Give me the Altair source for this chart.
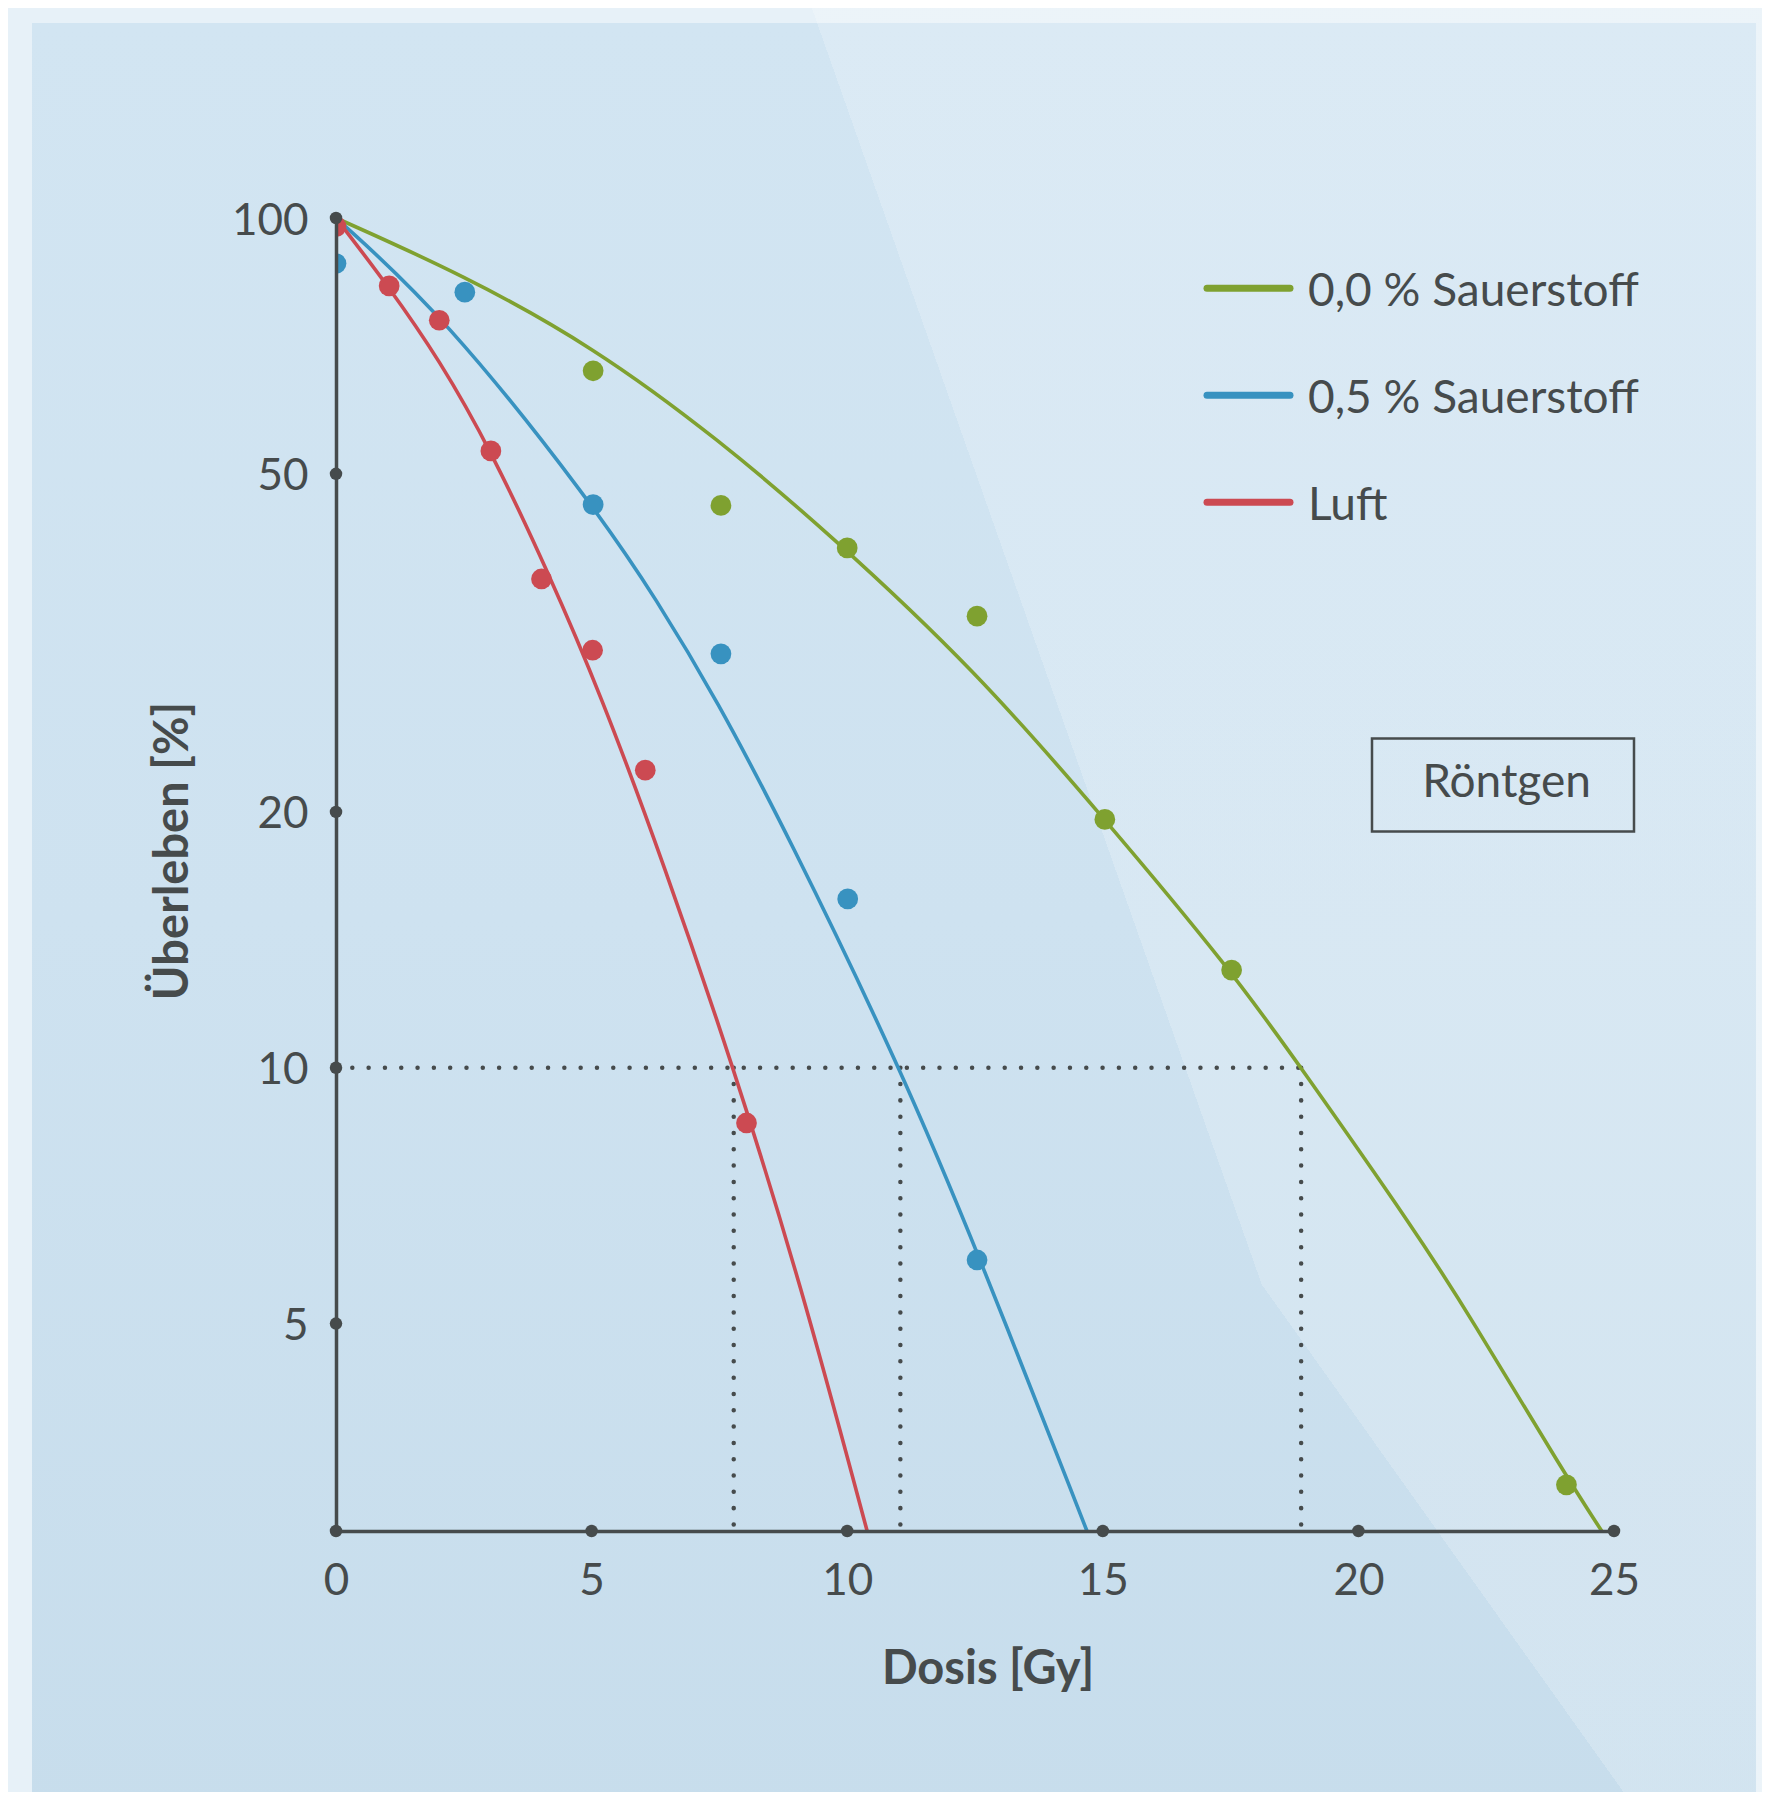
import altair as alt
import pandas as pd

# ---------------- data ----------------
series_names = ["0,0 % Sauerstoff", "0,5 % Sauerstoff", "Luft"]
series_colors = ["#7fa130", "#3892c0", "#cc4a52"]

# measured survival points (dose in Gy, survival in %)
green_pts_dose = [5.03, 7.53, 10.0, 12.54, 15.04, 17.52, 24.07]
green_pts_surv = [66.1, 45.9, 40.9, 34.0, 19.6, 13.03, 3.23]
blue_pts_dose = [0.0, 2.52, 5.03, 7.53, 10.01, 12.54]
blue_pts_surv = [88.4, 81.8, 46.0, 30.7, 15.8, 5.94]
red_pts_dose = [0.0, 1.04, 2.02, 3.03, 4.02, 5.02, 6.05, 8.03]
red_pts_surv = [97.7, 83.2, 75.8, 53.2, 37.6, 31.0, 22.4, 8.61]

# fitted curves
green_curve_dose = [0, 2.49, 5.03, 7.5, 9.67, 12.5, 15.03, 17.52, 18.88, 21.15, 22.14, 24.07, 24.76]
green_curve_surv = [100, 85.7, 70.6, 54.8, 42.4, 29.4, 19.65, 13.0, 10, 6.38, 5.15, 3.30, 2.85]
blue_curve_dose = [0, 2.10, 5.03, 6.28, 7.45, 8.82, 11.04, 12.54, 14.69]
blue_curve_surv = [100, 76.9, 46.0, 35.5, 27.1, 18.9, 10, 6.1, 2.85]
red_curve_dose = [0, 1.02, 2.03, 3.03, 4.15, 5.17, 6.41, 7.78, 9.08, 10.39]
red_curve_surv = [100, 83.2, 68.0, 53.3, 38.3, 27.6, 17.4, 10, 5.6, 2.85]

# 10 % survival reference
ref_level = 10
ref_doses = [7.78, 11.04, 18.88]

# axes
x_ticks = [0, 5, 10, 15, 20, 25]
y_ticks = [5, 10, 20, 50, 100]
x_min, x_max = 0, 25
y_min, y_max = 2.85, 100

x_title = "Dosis [Gy]"
y_title = "Überleben [%]"
box_label = "Röntgen"

# ---------------- tables ----------------
curves = pd.concat([
    pd.DataFrame({"dose": d, "surv": s, "series": n})
    for d, s, n in [(green_curve_dose, green_curve_surv, series_names[0]),
                    (blue_curve_dose, blue_curve_surv, series_names[1]),
                    (red_curve_dose, red_curve_surv, series_names[2])]
])
points = pd.concat([
    pd.DataFrame({"dose": d, "surv": s, "series": n})
    for d, s, n in [(green_pts_dose, green_pts_surv, series_names[0]),
                    (blue_pts_dose, blue_pts_surv, series_names[1]),
                    (red_pts_dose, red_pts_surv, series_names[2])]
])
vlines = pd.DataFrame({"dose": ref_doses, "surv": [ref_level] * len(ref_doses),
                       "surv2": [y_min] * len(ref_doses)})
hline = pd.DataFrame({"dose": [x_min], "dose2": [max(ref_doses)], "surv": [ref_level]})
xtick_df = pd.DataFrame({"dose": x_ticks, "surv": [y_min] * len(x_ticks)})
ytick_df = pd.DataFrame({"dose": [x_min] * len(y_ticks), "surv": y_ticks})
ticks_df = pd.concat([xtick_df, ytick_df])

# ---------------- styling ----------------
FONT = "Lato"
INK = "#464b4c"
W, H = 1278, 1313

color_scale = alt.Scale(domain=series_names, range=series_colors)
xs = alt.Scale(domain=[x_min, x_max], nice=False, zero=False)
ys = alt.Scale(type="log", domain=[y_min, y_max], nice=False)

x_axis = alt.Axis(values=x_ticks, title=None, grid=False, ticks=False, tickSize=0,
                  labelFont=FONT, labelFontSize=44, labelColor=INK, labelPadding=28,
                  domainColor=INK, domainWidth=3.5, labelFlush=False, format="d", zindex=1)
y_axis = alt.Axis(values=y_ticks, title=None, grid=False, ticks=False, tickSize=0,
                  labelFont=FONT, labelFontSize=44, labelColor=INK, labelPadding=28,
                  labelOffset=3, domainColor=INK, domainWidth=3.5, labelFlush=False,
                  format="d", zindex=1)


def X(field="dose"):
    return alt.X(f"{field}:Q", scale=xs, axis=x_axis)


def Y(field="surv"):
    return alt.Y(f"{field}:Q", scale=ys, axis=y_axis)


# background panel and the lighter diagonal sheen (decoration only)
panel = alt.Chart().mark_rect(
    fill=alt.Gradient(gradient="linear", x1=0, x2=0, y1=0, y2=1,
                      stops=[alt.GradientStop(color="#d2e5f2", offset=0),
                             alt.GradientStop(color="#cee2f0", offset=0.5),
                             alt.GradientStop(color="#c7ddec", offset=1)])
).encode(x=alt.value(-304), x2=alt.value(1420), y=alt.value(-195), y2=alt.value(1600))

CLEAR = "rgba(255,255,255,0)"
SHEEN = "rgba(255,255,255,0.2)"
sheen_top = alt.Chart().mark_rect(
    fill=alt.Gradient(gradient="linear", x1=0.0866, y1=0.6283, x2=1.0866, y2=0.3717,
                      stops=[alt.GradientStop(color=CLEAR, offset=0),
                             alt.GradientStop(color=CLEAR, offset=0.5),
                             alt.GradientStop(color=SHEEN, offset=0.5),
                             alt.GradientStop(color=SHEEN, offset=1)])
).encode(x=alt.value(-328), x2=alt.value(1426), y=alt.value(-210), y2=alt.value(1067))
sheen_bottom = alt.Chart().mark_rect(
    fill=alt.Gradient(gradient="linear", x1=0.318, y1=0.603, x2=1.318, y2=0.397,
                      stops=[alt.GradientStop(color=CLEAR, offset=0),
                             alt.GradientStop(color=CLEAR, offset=0.5),
                             alt.GradientStop(color=SHEEN, offset=0.5),
                             alt.GradientStop(color=SHEEN, offset=1)])
).encode(x=alt.value(-328), x2=alt.value(1426), y=alt.value(1067), y2=alt.value(1574))

dots_style = dict(color=INK, strokeWidth=4.5, strokeCap="round", strokeDash=[0.01, 16.3])
vrules = alt.Chart(vlines).mark_rule(**dots_style).encode(x=X(), y=Y(), y2="surv2:Q")
hrule = alt.Chart(hline).mark_rule(**dots_style).encode(x=X(), x2="dose2:Q", y=Y())

lines = alt.Chart(curves).mark_line(strokeWidth=3.6, interpolate="basis").encode(
    x=X(), y=Y(), color=alt.Color("series:N", scale=color_scale, legend=None),
    detail="series:N")

pts = alt.Chart(points).mark_circle(size=430, opacity=1, clip=True).encode(
    x=X(), y=Y(), color=alt.Color("series:N", scale=color_scale, legend=None))

tick_dots = alt.Chart(ticks_df).mark_circle(size=156, opacity=1, color=INK).encode(x=X(), y=Y())

# legend (drawn by hand)
leg_layers = []
leg_y0, leg_dy = 70.3, 107
for i, (name, col) in enumerate(zip(series_names, series_colors)):
    yy = leg_y0 + i * leg_dy
    leg_layers.append(alt.Chart().mark_rule(color=col, strokeWidth=7, strokeCap="round").encode(
        x=alt.value(871), x2=alt.value(954), y=alt.value(yy)))
    leg_layers.append(alt.Chart().mark_text(font=FONT, fontSize=46, color=INK, align="left",
                                            baseline="middle").encode(
        x=alt.value(972), y=alt.value(yy + 3.5), text=alt.value(name)))

box = alt.Chart().mark_rect(fill=None, stroke=INK, strokeWidth=2.5).encode(
    x=alt.value(1036), x2=alt.value(1298), y=alt.value(520.5), y2=alt.value(613.5))
box_text = alt.Chart().mark_text(font=FONT, fontSize=46, color=INK, align="center",
                                 baseline="alphabetic").encode(
    x=alt.value(1170.5), y=alt.value(579), text=alt.value(box_label))

xt = alt.Chart().mark_text(font=FONT, fontSize=47, fontWeight="bold", color=INK,
                           align="center", baseline="alphabetic").encode(
    x=alt.value(652), y=alt.value(1466), text=alt.value(x_title))
yt = alt.Chart().mark_text(font=FONT, fontSize=47, fontWeight="bold", color=INK,
                           align="center", baseline="alphabetic", angle=270).encode(
    x=alt.value(-148), y=alt.value(633), text=alt.value(y_title))

chart = alt.layer(
    panel, sheen_top, sheen_bottom, vrules, hrule, lines, pts, tick_dots,
    *leg_layers, box, box_text, xt, yt
).properties(
    width=W, height=H,
    autosize=alt.AutoSizeParams(type="none"),
    padding={"left": 328, "top": 210, "right": 148, "bottom": 261},
    background="#e7f1f8",
).configure_view(stroke=None)

chart.save("out.html", embed_options={"renderer": "svg", "actions": False})
